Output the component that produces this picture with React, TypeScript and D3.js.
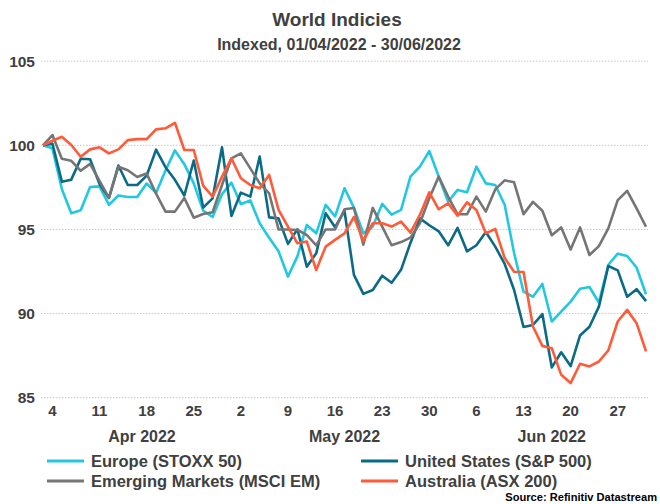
import React from "react";
import * as d3 from "d3";

// trading days, 01/04/2022 - 30/06/2022 (weekdays only)
const dates = d3.timeDay
  .range(new Date(2022, 3, 1), new Date(2022, 6, 1))
  .filter((d) => d.getDay() !== 0 && d.getDay() !== 6);

const europe = [
  100, 99.82, 97.4, 95.96, 96.14, 97.52, 97.56, 96.46, 97.02, 96.93, 96.93, 97.73, 97.17,
  98.5, 99.7, 98.88, 97.74, 96.12, 95.74, 97.1, 97.78, 96.5, 96.73, 95.37, 94.5, 93.7,
  92.2, 93.4, 95.27, 94.77, 96.46, 95.78, 97.45, 96.3, 94.77, 95.17, 96.52, 95.88, 96.16,
  98.14, 98.73, 99.66, 98.14, 96.65, 97.35, 97.21, 98.73, 97.74, 97.64, 96.47, 93.6, 91.3,
  91.0, 91.76, 89.53, 90.12, 90.71, 91.47, 91.58, 90.66, 92.9, 93.56, 93.42, 92.74, 91.15,
];

const unitedStates = [
  100, 100.1, 97.84, 97.96, 99.2, 99.17, 97.7, 96.87, 98.8, 97.64, 97.64, 98.2, 99.74,
  98.7, 97.95, 97.02, 99.1, 96.3, 96.85, 99.88, 95.8, 97.19, 96.95, 99.33, 95.72, 95.66,
  94.14, 95.01, 92.79, 93.58, 95.96, 95.13, 96.1, 92.3, 91.17, 91.4, 92.25, 91.83, 92.6,
  94.2, 95.66, 95.25, 94.89, 94.06, 95.09, 93.7, 94.06, 94.85, 93.98, 92.95, 91.4, 89.2,
  89.32, 89.97, 86.8, 87.7, 86.88, 88.7, 89.22, 90.41, 92.83, 92.57, 91.0, 91.45, 90.74,
];

const emerging = [
  100, 100.61, 99.2, 99.08, 98.49, 98.9, 97.89, 96.87, 98.73, 98.52, 98.12, 98.32, 97.13,
  96.06, 96.06, 96.87, 95.7, 95.92, 96.02, 97.64, 99.23, 99.52, 98.63, 97.74, 97.15, 95.0,
  95.0, 94.97, 94.67, 94.05, 95.0, 95.0, 96.2, 96.28, 94.1, 96.28, 95.17, 94.06, 94.25,
  94.51, 95.37, 96.85, 98.14, 96.95, 95.9, 95.9, 96.95, 96.06, 97.38, 97.92, 97.8, 95.91,
  96.64, 96.11, 94.66, 95.12, 93.81, 95.12, 93.48, 94.01, 95.06, 96.74, 97.29, 96.25, 95.16,
];

const australia = [
  100, 100.27, 100.51, 100.02, 99.32, 99.76, 99.88, 99.52, 99.76, 100.31, 100.37, 100.37,
  100.95, 101.01, 101.34, 99.72, 99.72, 97.6, 96.95, 98.14, 99.23, 98.04, 97.64, 97.45,
  98.24, 96.16, 95.17, 94.18, 94.28, 92.59, 93.98, 94.38, 94.77, 95.74, 94.32, 95.37, 95.37,
  95.17, 95.47, 94.81, 95.86, 97.21, 96.2, 96.55, 95.82, 96.61, 96.16, 94.77, 95.03, 93.3,
  92.49, 92.47, 89.23, 88.08, 87.94, 86.36, 85.87, 87.02, 86.86, 87.15, 87.81, 89.53, 90.22,
  89.43, 87.75,
];

const seriesNames = [
  "Europe (STOXX 50)",
  "United States (S&P 500)",
  "Emerging Markets (MSCI EM)",
  "Australia (ASX 200)",
];
const seriesColors = ["#22c8e0", "#0b6b87", "#757575", "#ff5b38"];
const seriesValues = [europe, unitedStates, emerging, australia];
const yTicks = [85, 90, 95, 100, 105];

const FONT = "'Liberation Sans', Arial, sans-serif";
const TEXT = "#404040";

export default function App() {
  const width = 660;
  const height = 504;

  const x = d3.scaleLinear().domain([0, dates.length - 1]).range([43, 646]);
  const y = d3.scaleLinear().domain([85, 105]).range([397.7, 61.2]);

  const line = d3
    .line<number>()
    .x((d, i) => x(i))
    .y((d) => y(d));

  const fmtDay = d3.timeFormat("%-d");
  const fmtMonth = d3.timeFormat("%b %Y");

  const mondays = dates
    .map((d, i) => ({ d, i }))
    .filter((o) => o.d.getDay() === 1);

  const months = d3.groups(
    dates.map((d, i) => ({ d, i })),
    (o) => o.d.getMonth()
  ).map(([, arr]) => ({
    label: fmtMonth(arr[0].d),
    pos: (arr[0].i + arr[arr.length - 1].i) / 2 + 0.5,
  }));

  return (
    <svg
      width={width}
      height={height}
      style={{ position: "absolute", left: 0, top: 0, display: "block", background: "#fff" }}
      fontFamily={FONT}
      fontWeight="bold"
    >
      <text x={337} y={26} textAnchor="middle" fontSize={19} fill={TEXT}>
        World Indicies
      </text>
      <text x={339} y={50} textAnchor="middle" fontSize={16} fill={TEXT}>
        Indexed, 01/04/2022 - 30/06/2022
      </text>

      {yTicks.map((t) => (
        <g key={t}>
          <line
            x1={41}
            x2={648}
            y1={y(t)}
            y2={y(t)}
            stroke="#c8c8c8"
            strokeWidth={1}
            strokeDasharray="1.5 1.5"
          />
          <text x={35} y={y(t)} dy="0.35em" textAnchor="end" fontSize={15.5} fill={TEXT}>
            {t}
          </text>
        </g>
      ))}

      {mondays.map((o) => (
        <text key={o.i} x={x(o.i)} y={416} textAnchor="middle" fontSize={15} fill={TEXT}>
          {fmtDay(o.d)}
        </text>
      ))}
      {months.map((m) => (
        <text key={m.label} x={x(m.pos)} y={442} textAnchor="middle" fontSize={16} fill={TEXT}>
          {m.label}
        </text>
      ))}

      {seriesValues.map((vals, k) => (
        <path
          key={k}
          d={line(vals) || ""}
          fill="none"
          stroke={seriesColors[k]}
          strokeWidth={2.6}
          strokeLinejoin="round"
        />
      ))}

      {seriesNames.map((name, k) => {
        const lx = k % 2 === 0 ? 47 : 361;
        const ly = k < 2 ? 461 : 481;
        return (
          <g key={name}>
            <line x1={lx} x2={lx + 37} y1={ly} y2={ly} stroke={seriesColors[k]} strokeWidth={3} />
            <text x={lx + 44} y={ly} dy="0.36em" fontSize={16.5} fill={TEXT}>
              {name}
            </text>
          </g>
        );
      })}

      <text x={657} y={501} textAnchor="end" fontSize={11.1} fill="#000">
        Source: Refinitiv Datastream
      </text>
    </svg>
  );
}
